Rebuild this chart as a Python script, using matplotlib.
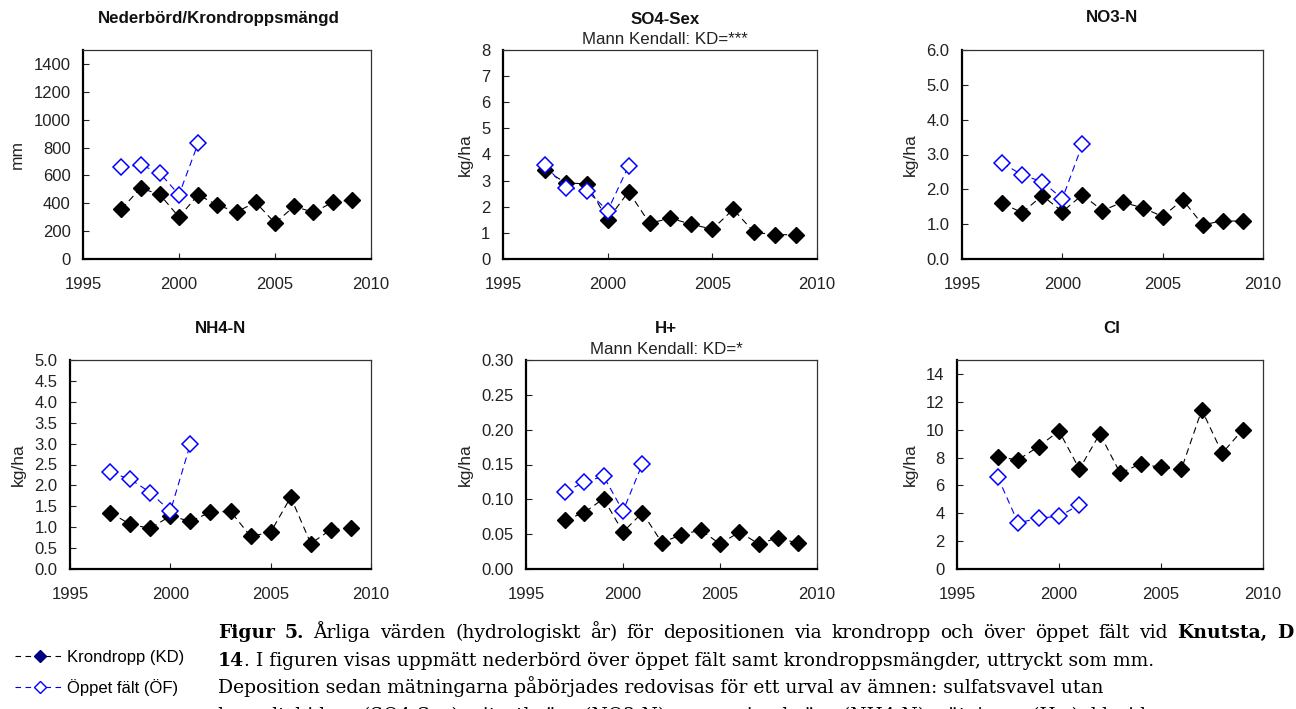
import numpy as np
import matplotlib
matplotlib.use("Agg")
import matplotlib.pyplot as plt
from matplotlib.lines import Line2D

plt.rcParams['font.family'] = ['Liberation Sans', 'DejaVu Sans']

# ---- data ----
years_kd = [1997, 1998, 1999, 2000, 2001, 2002, 2003, 2004, 2005, 2006, 2007, 2008, 2009]
years_of = [1997, 1998, 1999, 2000, 2001]

ned_kd = [358, 509, 463, 301, 461, 386, 339, 406, 258, 378, 335, 406, 425]
ned_of = [657, 676, 617, 461, 832]

so4_kd = [3.40, 2.92, 2.87, 1.50, 2.58, 1.37, 1.56, 1.33, 1.14, 1.90, 1.02, 0.93, 0.93]
so4_of = [3.59, 2.73, 2.62, 1.85, 3.56]

no3_kd = [1.60, 1.33, 1.82, 1.36, 1.84, 1.39, 1.63, 1.47, 1.22, 1.70, 0.98, 1.10, 1.08]
no3_of = [2.76, 2.41, 2.22, 1.73, 3.29]

nh4_kd = [1.35, 1.07, 0.97, 1.27, 1.14, 1.36, 1.38, 0.78, 0.88, 1.72, 0.61, 0.94, 0.98]
nh4_of = [2.31, 2.15, 1.83, 1.38, 2.99]

h_kd = [0.070, 0.081, 0.101, 0.053, 0.081, 0.038, 0.049, 0.056, 0.036, 0.053, 0.036, 0.045, 0.037]
h_of = [0.110, 0.125, 0.133, 0.083, 0.151]

cl_kd = [8.03, 7.84, 8.79, 9.91, 7.17, 9.70, 6.88, 7.55, 7.29, 7.17, 11.42, 8.31, 9.99]
cl_of = [6.59, 3.30, 3.66, 3.77, 4.61]

titles = ['Nederbörd/Krondroppsmängd', 'SO4-Sex', 'NO3-N', 'NH4-N', 'H+', 'Cl']
subtitles = ['', 'Mann Kendall: KD=***', '', '', 'Mann Kendall: KD=*', '']
ylabels = ['mm', 'kg/ha', 'kg/ha', 'kg/ha', 'kg/ha', 'kg/ha']
kd_series = [ned_kd, so4_kd, no3_kd, nh4_kd, h_kd, cl_kd]
of_series = [ned_of, so4_of, no3_of, nh4_of, h_of, cl_of]
ylims = [(0, 1500), (0, 8), (0, 6), (0, 5), (0, 0.30), (0, 15)]
yticks = [np.arange(0, 1401, 200), np.arange(0, 9, 1), np.arange(0, 6.1, 1),
          np.arange(0, 5.01, 0.5), np.arange(0, 0.301, 0.05), np.arange(0, 15, 2)]
yfmt = ['%d', '%d', '%.1f', '%.1f', '%.2f', '%d']

# ---- layout, in pixels (left, top, right, bottom) ----
W, H = 1296, 709
boxes = [(83, 50, 371, 259), (503, 50, 817, 259), (962, 50, 1263, 259),
         (70, 360, 371, 569), (526, 360, 817, 569), (957, 360, 1263, 569)]
title_x = [219, 665, 1112, 220, 666, 1112]
title_y = [18, 19, 18, 329, 329, 329]
sub_y = [0, 40, 0, 0, 350, 0]

fig = plt.figure(figsize=(W / 100, H / 100), dpi=100)

for i in range(6):
    l, t, r, b = boxes[i]
    ax = fig.add_axes([l / W, 1 - b / H, (r - l) / W, (b - t) / H])
    ax.plot(years_kd, kd_series[i], color='black', linestyle=(0, (6, 4)), linewidth=0.8,
            marker='D', markersize=8.5, markerfacecolor='black', markeredgecolor='black')
    ax.plot(years_of, of_series[i], color='#0000ff', linestyle=(0, (6, 4)), linewidth=0.8,
            marker='D', markersize=8, markerfacecolor='white', markeredgecolor='#0000ff',
            markeredgewidth=1.1)
    ax.set_xlim(1995, 2010)
    ax.set_xticks([1995, 2000, 2005, 2010])
    ax.set_ylim(*ylims[i])
    ax.set_yticks(yticks[i])
    ax.set_yticklabels([yfmt[i] % v for v in yticks[i]])
    ax.tick_params(direction='in', length=4, width=0.8, labelsize=12, colors='#222222',
                   labelcolor='#222222')
    ax.tick_params(axis='y', pad=9)
    ax.tick_params(axis='x', pad=13)
    for s in ['left', 'bottom']:
        ax.spines[s].set_linewidth(1.6)
        ax.spines[s].set_color('black')
    for s in ['top', 'right']:
        ax.spines[s].set_linewidth(0.9)
        ax.spines[s].set_color('#333333')
    ax.set_ylabel(ylabels[i], fontsize=12.5, color='#222222', labelpad=6)
    fig.text(title_x[i] / W, 1 - title_y[i] / H, titles[i], ha='center', va='center',
             fontsize=12.2, fontweight='bold', color='#111111')
    if subtitles[i]:
        fig.text(title_x[i] / W, 1 - sub_y[i] / H, subtitles[i], ha='center', va='center',
                 fontsize=12.2, color='#222222')

# legend
h_kd_leg = Line2D([], [], color='black', linestyle=(0, (5, 4)), linewidth=0.8, marker='D',
                  markersize=6, markerfacecolor='#000080', markeredgecolor='#000080')
h_of_leg = Line2D([], [], color='#0000ff', linestyle=(0, (5, 4)), linewidth=0.8, marker='D',
                  markersize=6, markerfacecolor='white', markeredgecolor='#0000ff')
fig.legend(handles=[h_kd_leg, h_of_leg], labels=['Krondropp (KD)', 'Öppet fält (ÖF)'],
           loc='upper left', bbox_to_anchor=(8 / W, 1 - 643 / H), frameon=False,
           fontsize=12, handlelength=3.0, handletextpad=0.15, labelspacing=0.85,
           numpoints=1, borderaxespad=0)

# caption (first line is justified to the page width, as in the source)
caption = [
    [('Figur 5.', 'bold'), (' Årliga värden (hydrologiskt år) för depositionen via krondropp och över öppet fält vid ', 'normal'), ('Knutsta, D', 'bold')],
    [('14', 'bold'), ('. I figuren visas uppmätt nederbörd över öppet fält samt krondroppsmängder, uttryckt som mm.', 'normal')],
    [('Deposition sedan mätningarna påbörjades redovisas för ett urval av ämnen: sulfatsvavel utan', 'normal')],
    [('havsaltsbidrag (SO4-Sex), nitratkväve (NO3-N), ammoniumkväve (NH4-N), vätejoner (H+), klorid', 'normal')],
]
justify = [True, False, False, False]
cap_x0, cap_x1 = 218, 1293
cap_y = [638, 666, 693, 721]
cap_kw = dict(ha='left', va='baseline', fontsize=13.5, family='DejaVu Serif', color='black')
renderer = fig.canvas.get_renderer()

for line, y, just in zip(caption, cap_y, justify):
    if not just:
        x = cap_x0
        for txt, w in line:
            tt = fig.text(x / W, 1 - y / H, txt, fontweight=w, **cap_kw)
            x += tt.get_window_extent(renderer).width
        continue
    words = []
    for txt, w in line:
        for wd in txt.split(' '):
            if wd != '':
                words.append((wd, w))
    arts = [fig.text(0, 1 - y / H, wd, fontweight=w, **cap_kw) for wd, w in words]
    widths = [a.get_window_extent(renderer).width for a in arts]
    gap = (cap_x1 - cap_x0 - sum(widths)) / (len(words) - 1)
    gap = max(gap, 4.0)
    x = cap_x0
    for a, wdt in zip(arts, widths):
        a.set_x(x / W)
        x += wdt + gap

fig.savefig('out.png', dpi=100)
